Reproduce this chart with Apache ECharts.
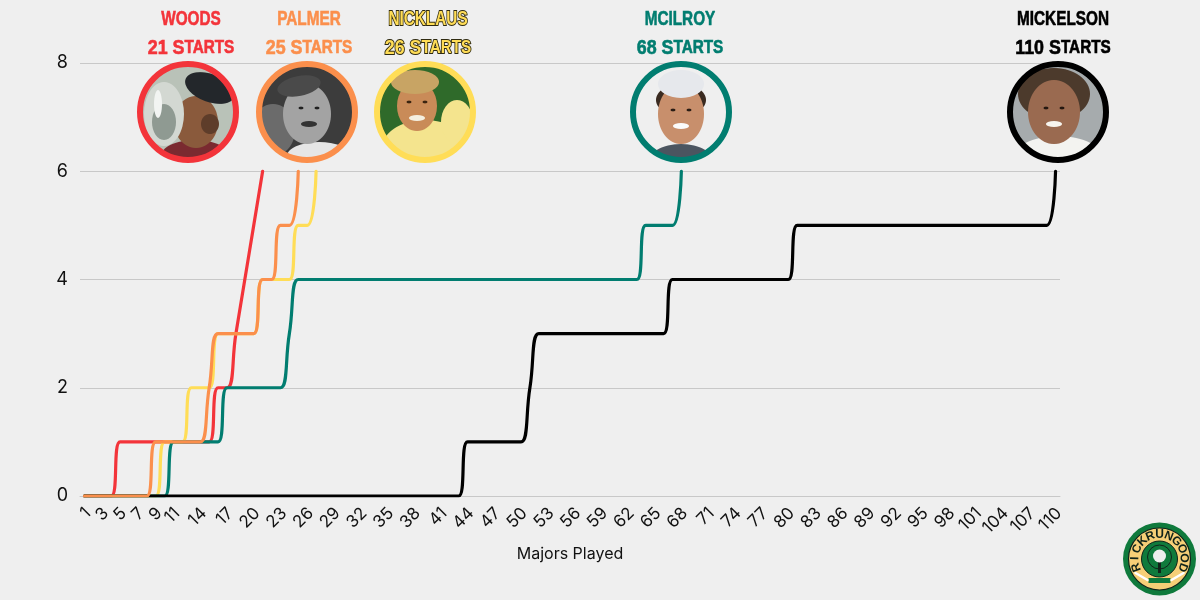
<!DOCTYPE html>
<html lang="en">
<head>
    <meta charset="UTF-8">
    <title>Majors Played</title>
    <script src="https://cdn.jsdelivr.net/npm/echarts@6/dist/echarts.min.js"></script>
    <style>
        html, body { margin: 0; padding: 0; background: #efefef; }
    </style>
</head>
<body>
<div id="main" style="width: 1200px;height: 600px"></div>

<script>
    var majors = [
        1, 2, 3, 4, 5, 6, 7, 8, 9, 10, 11, 12, 13, 14, 15, 16, 17, 18, 19, 20,
        21, 22, 23, 24, 25, 26, 27, 28, 29, 30, 31, 32, 33, 34, 35, 36, 37, 38, 39, 40,
        41, 42, 43, 44, 45, 46, 47, 48, 49, 50, 51, 52, 53, 54, 55, 56, 57, 58, 59, 60,
        61, 62, 63, 64, 65, 66, 67, 68, 69, 70, 71, 72, 73, 74, 75, 76, 77, 78, 79, 80,
        81, 82, 83, 84, 85, 86, 87, 88, 89, 90, 91, 92, 93, 94, 95, 96, 97, 98, 99, 100,
        101, 102, 103, 104, 105, 106, 107, 108, 109, 110
    ];
    var shownTicks = [1, 3, 5, 7, 9, 11, 14, 17, 20, 23, 26, 29, 32, 35, 38, 41, 44, 47, 50, 53, 56, 59,
        62, 65, 68, 71, 74, 77, 80, 83, 86, 89, 92, 95, 98, 101, 104, 107, 110];

    var woods = [0, 0, 0, 0, 1, 1, 1, 1, 1, 1, 1, 1, 1, 1, 1, 2, 2, 3, 4, 5, 6];
    var palmer = [0, 0, 0, 0, 0, 0, 0, 0, 1, 1, 1, 1, 1, 1, 2, 3, 3, 3, 3, 3, 4, 4, 5, 5, 6];
    var nicklaus = [0, 0, 0, 0, 0, 0, 0, 0, 0, 1, 1, 1, 2, 2, 2, 3, 3, 3, 3, 3, 4, 4, 4, 4, 5, 5, 6];
    var mcilroy = [
        0, 0, 0, 0, 0, 0, 0, 0, 0, 0, 1, 1, 1, 1, 1, 1, 2, 2, 2, 2,
        2, 2, 2, 3, 4, 4, 4, 4, 4, 4, 4, 4, 4, 4, 4, 4, 4, 4, 4, 4,
        4, 4, 4, 4, 4, 4, 4, 4, 4, 4, 4, 4, 4, 4, 4, 4, 4, 4, 4, 4,
        4, 4, 4, 5, 5, 5, 5, 6
    ];
    var mickelson = [
        0, 0, 0, 0, 0, 0, 0, 0, 0, 0, 0, 0, 0, 0, 0, 0, 0, 0, 0, 0,
        0, 0, 0, 0, 0, 0, 0, 0, 0, 0, 0, 0, 0, 0, 0, 0, 0, 0, 0, 0,
        0, 0, 0, 1, 1, 1, 1, 1, 1, 1, 2, 3, 3, 3, 3, 3, 3, 3, 3, 3,
        3, 3, 3, 3, 3, 3, 4, 4, 4, 4, 4, 4, 4, 4, 4, 4, 4, 4, 4, 4,
        5, 5, 5, 5, 5, 5, 5, 5, 5, 5, 5, 5, 5, 5, 5, 5, 5, 5, 5, 5,
        5, 5, 5, 5, 5, 5, 5, 5, 5, 6
    ];

    var RED = '#f3343a', ORANGE = '#fb8f4c', YELLOW = '#ffdd57', TEAL = '#017d70', BLACK = '#000000';
    var uiFont = 'Inter';
    var headFont = '"Liberation Sans", Arial';

    function lineSeries(name, data, color, z) {
        return {
            name: name, type: 'line', data: data, z: z,
            smooth: 0.5, symbol: 'none',
            lineStyle: { color: color, width: 3.2, cap: 'round' }
        };
    }

    // header: name on one line, count on the next, squeezed to look condensed
    function header(x, name, count, color, outline) {
        function txt(y, text, squeeze) {
            var rich = {
                a: { fontSize: 21, fontWeight: 'bold', fontFamily: headFont },
                b: { fontSize: 18, fontWeight: 'bold', fontFamily: headFont }
            };
            var style = {
                text: text, rich: rich, fill: color, fontFamily: headFont,
                fontSize: 21, fontWeight: 'bold', align: 'center', verticalAlign: 'middle',
                stroke: outline ? '#2f2a10' : color, lineWidth: outline ? 2 : 0.6
            };
            return { type: 'text', x: x, y: y, z: 20, scaleX: squeeze, style: style };
        }
        return [txt(19, '{a|' + name + '}', 0.73), txt(48, '{a|' + count + ' S}{b|TARTS}', 0.85)];
    }

    // portraits are stand-ins painted on a small canvas, clipped to the ring
    function portrait(paint) {
        var c = document.createElement('canvas');
        c.width = 192; c.height = 192;
        var g = c.getContext('2d');
        g.scale(2, 2);
        g.beginPath(); g.arc(48, 48, 48, 0, Math.PI * 2); g.clip();
        paint(g);
        return c;
    }
    function ell(g, color, x, y, rx, ry, rot) {
        g.fillStyle = color;
        g.beginPath(); g.ellipse(x, y, rx, ry, rot || 0, 0, Math.PI * 2); g.fill();
    }
    function face(g, cx, cy, mouth, eye) {
        ell(g, eye, cx - 8, cy - 4, 2.4, 1.4);
        ell(g, eye, cx + 8, cy - 4, 2.4, 1.4);
        ell(g, mouth, cx, cy + 12, 8, 3);
    }

    var paintWoods = function (g) {
        g.fillStyle = '#b9c2b8'; g.fillRect(0, 0, 96, 96);
        ell(g, '#7a2a30', 55, 92, 34, 16);
        ell(g, '#8a5a3c', 56, 58, 22, 26);
        ell(g, '#23272b', 70, 24, 26, 14, 0.35);
        ell(g, '#5e3d2a', 70, 60, 9, 10);
        ell(g, '#d3d8d2', 24, 50, 20, 32);
        ell(g, '#8f9a92', 24, 58, 12, 18);
        ell(g, '#f2f4f2', 18, 40, 4, 14);
    };
    var paintPalmer = function (g) {
        g.fillStyle = '#3c3c3c'; g.fillRect(0, 0, 96, 96);
        ell(g, '#6b6b6b', 14, 66, 22, 26);
        ell(g, '#e6e6e6', 60, 92, 32, 14);
        ell(g, '#a3a3a3', 48, 50, 24, 30);
        ell(g, '#4a4a4a', 40, 22, 22, 10, -0.2);
        face(g, 50, 48, '#333333', '#202020');
    };
    var paintNicklaus = function (g) {
        g.fillStyle = '#2f6a2a'; g.fillRect(0, 0, 96, 96);
        ell(g, '#f4e48e', 48, 86, 44, 30);
        ell(g, '#f4e48e', 80, 58, 16, 22);
        ell(g, '#c98b58', 40, 42, 20, 25);
        ell(g, '#c8a464', 38, 18, 24, 12);
        face(g, 40, 42, '#f4efe0', '#3a2410');
    };
    var paintMcilroy = function (g) {
        g.fillStyle = '#efefef'; g.fillRect(0, 0, 96, 96);
        ell(g, '#4b5560', 48, 100, 34, 20);
        ell(g, '#3a2a20', 48, 36, 25, 16);
        ell(g, '#c88f6c', 48, 50, 23, 30);
        ell(g, '#e6e8ec', 48, 20, 23, 14);
        face(g, 48, 50, '#fbfbfb', '#2a1c14');
    };
    var paintMickelson = function (g) {
        g.fillStyle = '#a6abad'; g.fillRect(0, 0, 96, 96);
        ell(g, '#f3f3f0', 48, 96, 46, 24);
        ell(g, '#4c3a2c', 44, 30, 36, 26);
        ell(g, '#9a6a50', 44, 48, 26, 32);
        face(g, 44, 48, '#f7f4ee', '#241710');
    };

    function avatar(cx, cy, color, paint) {
        return [
            { type: 'image', x: cx - 48, y: cy - 48, z: 20,
                style: { image: portrait(paint), x: 0, y: 0, width: 96, height: 96 } },
            { type: 'circle', z: 21, shape: { cx: cx, cy: cy, r: 48 },
                style: { fill: 'none', stroke: color, lineWidth: 6 } }
        ];
    }

    // badge bottom right, letters set one by one round the ring
    function badge(cx, cy) {
        var els = [
            { type: 'circle', z: 20, shape: { cx: cx, cy: cy, r: 36.5 }, style: { fill: '#0f7a3c' } },
            { type: 'circle', z: 20, shape: { cx: cx, cy: cy, r: 31 }, style: { fill: '#f6cf77', stroke: '#10231a', lineWidth: 1.2 } },
            { type: 'circle', z: 20, shape: { cx: cx, cy: cy, r: 18 }, style: { fill: '#0f7a3c', stroke: '#10231a', lineWidth: 1 } },
            { type: 'circle', z: 20, shape: { cx: cx, cy: cy - 2, r: 12 }, style: { fill: 'none', stroke: '#10231a', lineWidth: 1 } },
            { type: 'rect', z: 20, shape: { x: cx - 1.5, y: cy, width: 3, height: 14 }, style: { fill: '#10231a' } },
            { type: 'circle', z: 21, shape: { cx: cx, cy: cy - 3, r: 6.5 }, style: { fill: '#eeeeee' } },
            { type: 'rect', z: 20, shape: { x: cx - 11, y: cy + 19, width: 22, height: 5 }, style: { fill: '#0f7a3c' } },
            { type: 'line', z: 21, shape: { x1: cx - 24, y1: cy + 14, x2: cx - 12, y2: cy + 21 }, style: { stroke: '#ffffff', lineWidth: 2.5, lineCap: 'round' } },
            { type: 'line', z: 21, shape: { x1: cx + 24, y1: cy + 14, x2: cx + 12, y2: cy + 21 }, style: { stroke: '#ffffff', lineWidth: 2.5, lineCap: 'round' } }
        ];
        var word = 'RICKRUNGOOD';
        var step = 22 * Math.PI / 180;
        for (var i = 0; i < word.length; i++) {
            var a = (i - (word.length - 1) / 2) * step;
            els.push({
                type: 'text', z: 22,
                x: cx + 24.5 * Math.sin(a), y: cy - 24.5 * Math.cos(a), rotation: -a,
                style: { text: word.charAt(i), fontFamily: headFont, fontWeight: 'bold', fontSize: 12,
                    fill: '#10231a', align: 'center', verticalAlign: 'middle' }
            });
        }
        return els;
    }

    var chartDom = document.getElementById('main');
    var myChart = echarts.init(chartDom);
    var option = {
        animation: false,
        backgroundColor: '#efefef',
        grid: { left: 80, top: 63, width: 980, height: 433 },
        xAxis: {
            type: 'category',
            data: majors,
            name: 'Majors Played',
            nameLocation: 'middle',
            nameGap: 50,
            nameTextStyle: { fontFamily: uiFont, fontSize: 16, color: '#111' },
            axisTick: { show: false },
            axisLine: { lineStyle: { color: '#c8c8c8', width: 1 } },
            axisLabel: {
                rotate: 45,
                margin: 18,
                padding: [0, -5, 0, 0],
                fontFamily: uiFont,
                fontSize: 17,
                color: '#111',
                interval: function (index, value) {
                    return shownTicks.indexOf(Number(value)) >= 0;
                }
            }
        },
        yAxis: {
            type: 'value',
            min: 0,
            max: 8,
            interval: 2,
            axisLine: { show: false },
            axisTick: { show: false },
            axisLabel: { fontFamily: uiFont, fontSize: 18, color: '#111', margin: 12 },
            splitLine: { lineStyle: { color: '#c8c8c8', width: 1 } }
        },
        series: [
            lineSeries('Woods', woods, RED, 2),
            lineSeries('Nicklaus', nicklaus, YELLOW, 3),
            lineSeries('McIlroy', mcilroy, TEAL, 4),
            lineSeries('Mickelson', mickelson, BLACK, 5),
            lineSeries('Palmer', palmer, ORANGE, 6)
        ],
        graphic: [].concat(
            header(191, 'WOODS', 21, RED),
            header(309, 'PALMER', 25, ORANGE),
            header(428, 'NICKLAUS', 26, YELLOW, true),
            header(680, 'MCILROY', 68, TEAL),
            header(1063, 'MICKELSON', 110, BLACK),
            avatar(188, 112, RED, paintWoods),
            avatar(307, 112, ORANGE, paintPalmer),
            avatar(425, 112, YELLOW, paintNicklaus),
            avatar(681, 112, TEAL, paintMcilroy),
            avatar(1058, 112, BLACK, paintMickelson),
            badge(1159.5, 559)
        )
    };
    myChart.setOption(option);
</script>
</body>
</html>
